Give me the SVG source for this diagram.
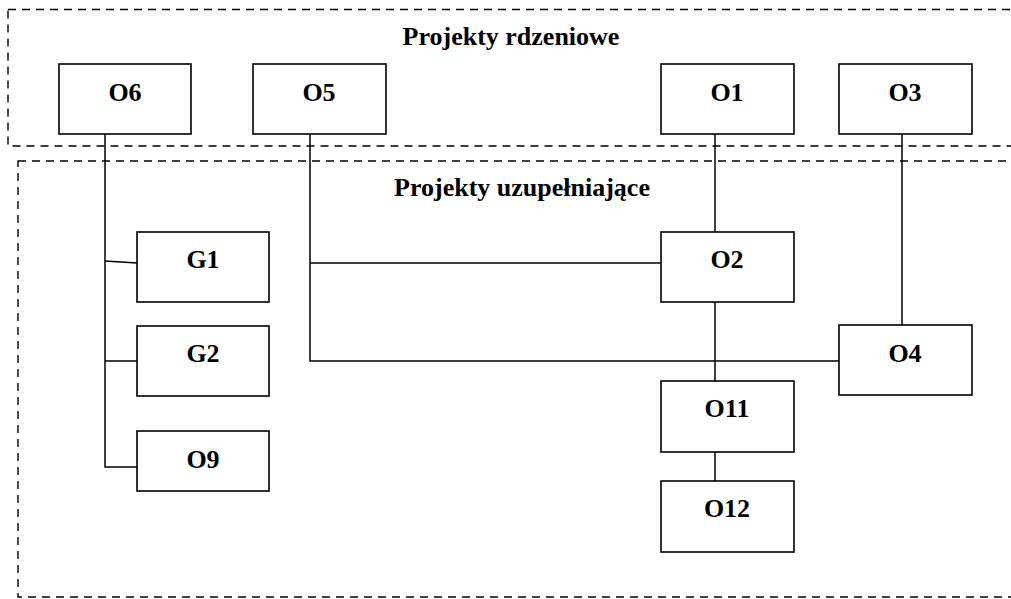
<svg xmlns="http://www.w3.org/2000/svg" width="1011" height="599" viewBox="0 0 1011 599">
<style>
.grp{fill:none;stroke:#000;stroke-width:1.4;stroke-dasharray:8 6}
.box{fill:#fff;stroke:#000;stroke-width:1.6}
.lbl{font-family:"Liberation Serif","Times New Roman",serif;font-weight:bold;font-size:26px;text-anchor:middle;fill:#000}
.ln{fill:none;stroke:#000;stroke-width:1.5}
</style>
<rect width="1011" height="599" fill="#fff"/>
<g id="group-core">
<rect class="grp" x="8" y="9.5" width="1100" height="136.5"/>
<text class="lbl" x="511" y="45">Projekty rdzeniowe</text>
</g>
<g id="group-supp">
<rect class="grp" x="18" y="161" width="1100" height="436"/>
<text class="lbl" x="522" y="196">Projekty uzupełniające</text>
</g>
<g id="connectors">
<polyline class="ln" points="105,134 105,467 137,467"/>
<line class="ln" x1="105" y1="261" x2="137" y2="263"/>
<line class="ln" x1="105" y1="361" x2="137" y2="361"/>
<polyline class="ln" points="310,134 310,361 839,361"/>
<line class="ln" x1="310" y1="263" x2="661" y2="263"/>
<line class="ln" x1="715" y1="134" x2="715" y2="232"/>
<line class="ln" x1="715" y1="302" x2="715" y2="381"/>
<line class="ln" x1="715" y1="452" x2="715" y2="481"/>
<line class="ln" x1="902" y1="134" x2="902" y2="325"/>
</g>
<g id="O6"><rect class="box" x="59" y="64" width="132" height="70"/><text class="lbl" x="125" y="101">O6</text></g>
<g id="O5"><rect class="box" x="253" y="64" width="133" height="70"/><text class="lbl" x="319" y="101">O5</text></g>
<g id="O1"><rect class="box" x="661" y="64" width="133" height="70"/><text class="lbl" x="727" y="101">O1</text></g>
<g id="O3"><rect class="box" x="839" y="64" width="133" height="70"/><text class="lbl" x="905" y="101">O3</text></g>
<g id="G1"><rect class="box" x="137" y="232" width="132" height="70"/><text class="lbl" x="203" y="268">G1</text></g>
<g id="G2"><rect class="box" x="137" y="326" width="132" height="70"/><text class="lbl" x="203" y="362">G2</text></g>
<g id="O9"><rect class="box" x="137" y="431" width="132" height="60"/><text class="lbl" x="203" y="468">O9</text></g>
<g id="O2"><rect class="box" x="661" y="232" width="133" height="70"/><text class="lbl" x="727" y="268">O2</text></g>
<g id="O4"><rect class="box" x="839" y="325" width="133" height="70"/><text class="lbl" x="905" y="362">O4</text></g>
<g id="O11"><rect class="box" x="661" y="381" width="133" height="71"/><text class="lbl" x="727" y="417">O11</text></g>
<g id="O12"><rect class="box" x="661" y="481" width="133" height="71"/><text class="lbl" x="727" y="517">O12</text></g>
</svg>
